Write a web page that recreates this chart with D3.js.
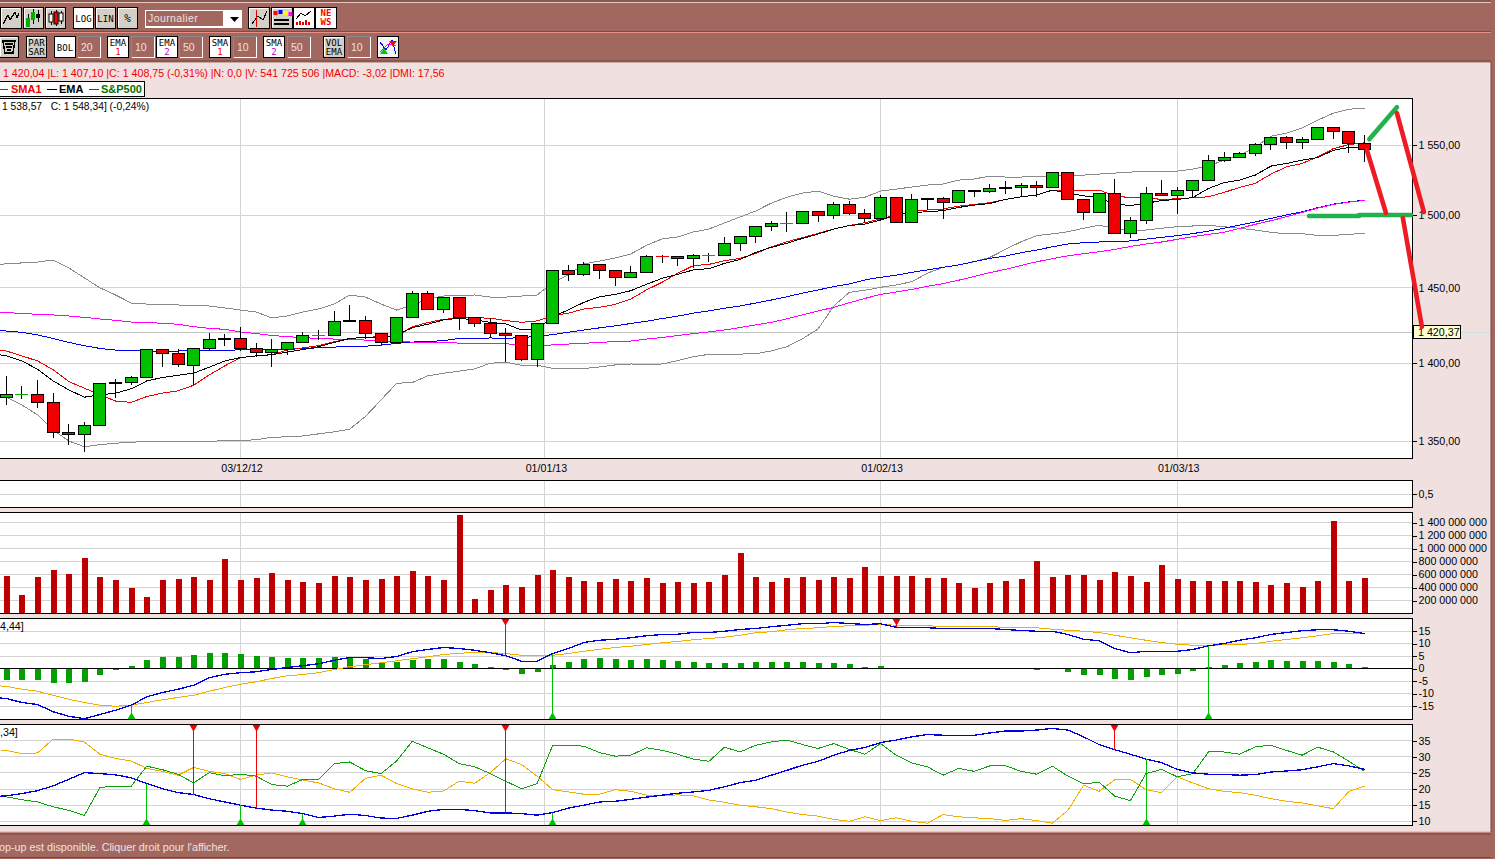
<!DOCTYPE html>
<html><head><meta charset="utf-8">
<script src="https://cdn.jsdelivr.net/npm/d3@7/dist/d3.min.js"></script>
<style>html,body{margin:0;padding:0;background:#f0e0e0;overflow:hidden}svg{display:block}text{font-family:"Liberation Sans",Arial,sans-serif}</style>
</head><body><svg id="c" width="1495" height="859"></svg>
<script>
// ---------- candles (S&P500 daily) ----------
const opens=[1377.9,1379.7,1379.8,1374.6,1355.6,1353.8,1360,1386.9,1387.6,1390.8,1409,1406.4,1398.6,1409.6,1415.6,1416.3,1409.6,1407,1409,1413.6,1418.2,1418.3,1427.6,1428.3,1419.6,1413.6,1430.3,1446.3,1435.6,1443.6,1430.3,1426.3,1419.6,1418.3,1402.5,1426.3,1462,1459,1466.1,1462,1457.2,1460.6,1471.5,1471.5,1470.1,1472.2,1472.3,1480.4,1485.3,1492.3,1494.3,1494.4,1502.7,1500,1507.6,1501.3,1497.9,1512.5,1495.1,1511.1,1511.8,1509,1516.8,1516.8,1518.9,1519.6,1521,1519.6,1530.3,1511.1,1502,1515.4,1487.4,1496.5,1515.4,1513.9,1517.5,1524.6,1538.9,1541,1543.8,1550.4,1555.5,1551.8,1554,1562.8,1559.8,1551.1];
const highs=[1391.7,1385.2,1389.1,1380.4,1360.8,1361.9,1387.2,1389.7,1391.7,1409.3,1409.3,1409,1409.6,1419.6,1419,1423.6,1413,1415.6,1413.6,1420.2,1421.8,1434.3,1438.3,1431,1419.6,1430.6,1447.9,1447.9,1443.6,1443.9,1430.6,1429.6,1423.4,1418.5,1426.7,1462.3,1465.6,1467.4,1466.3,1462.3,1464.9,1472.2,1472.2,1471.9,1472.9,1473.6,1484.6,1485.3,1492.6,1495.8,1502,1503,1503,1509,1509.7,1504.1,1513.9,1512.8,1514.9,1511.8,1512.5,1517.8,1517.8,1521.8,1524.1,1522.5,1524.1,1530.5,1530.5,1511.3,1515.6,1525.3,1498.6,1519.6,1524.8,1519.6,1524.6,1543.1,1544.6,1545,1551.8,1555.8,1556.2,1555.5,1563,1563,1560,1556.9];
const lows=[1372.9,1376.9,1371.2,1352.1,1347.7,1343.2,1359.6,1377.2,1386,1390.6,1397.7,1397.7,1385.8,1408.5,1411.4,1408,1403.8,1397.7,1405.5,1413,1415.2,1418,1427,1415.6,1411.6,1413.3,1430,1435.3,1433,1421.8,1424,1416.3,1400.9,1401.6,1397.7,1426,1454.9,1458.3,1456,1451.5,1456.9,1460.4,1467.2,1465.1,1463.4,1467.4,1472,1475.3,1480.9,1489.2,1488.3,1494.1,1495.5,1497.6,1500,1495.5,1497.2,1494.4,1494.9,1503.6,1497.6,1508.8,1512.7,1515.4,1514.9,1512.9,1512.9,1519.4,1510.9,1497,1501.8,1487.2,1484.4,1494.1,1513.7,1501,1511.8,1524.3,1537.4,1540.8,1542.4,1546.2,1547.1,1547.1,1553.8,1554.7,1544.3,1537.9];
const closes=[1379.8,1379.8,1374.6,1355.6,1353.8,1360,1386.9,1387.6,1390.8,1409,1406.4,1399.2,1409.6,1415.6,1416.3,1409.6,1407,1409,1413.6,1418.3,1418.3,1427.6,1428.3,1419.6,1413.6,1430.3,1446.3,1435.6,1443.6,1430.3,1426.3,1419.6,1418.3,1402.5,1426.3,1462,1459,1466.1,1462,1457.2,1460.6,1471.5,1471.4,1470.1,1472.2,1472.3,1480.4,1485.3,1492.3,1494.4,1494.4,1502.7,1500,1507.6,1501.3,1497.9,1512.5,1495.1,1511.1,1511.8,1509,1517.5,1517.5,1518.9,1519.6,1521,1519.6,1530.3,1511.1,1502,1515.4,1487.4,1496.5,1515.4,1513.9,1517.5,1524.6,1538.9,1541,1543.8,1550.4,1555.5,1551.8,1554,1562.8,1559.8,1551.1,1547.1];
// ---------- overlays: first value is the session just off the left edge ----------
const sma1=[1408.6,1407.9,1404.7,1401.4,1395.6,1388,1383.7,1379.4,1375.4,1374.6,1378.3,1380.5,1382,1385.6,1392.3,1398.2,1403.6,1404.7,1405.5,1408.5,1410,1411.4,1414,1416.2,1416.9,1417.4,1417.4,1424,1426.7,1428.9,1429.6,1430,1429.6,1428.1,1426.9,1427.8,1431.2,1433,1435.8,1436.9,1438.9,1442.5,1448.6,1453.8,1459.9,1465.1,1466,1468.5,1470.1,1473.5,1478.1,1481.6,1484.4,1487.4,1490.4,1492.8,1494.8,1497.4,1500.2,1502.5,1503.7,1504.4,1506.4,1507.6,1508.8,1511.1,1513,1514.2,1517.7,1517.7,1517.3,1517.7,1513.7,1512.3,1512.3,1511.1,1511.6,1512.3,1513,1516.1,1519.6,1522.5,1529.1,1534.3,1536.7,1541.5,1547.4,1550.3,1551.6];
const ema1=[1406.5,1404.7,1401.4,1396,1388.4,1382.6,1377.9,1379.4,1380.5,1383.3,1388.4,1390.6,1392.1,1393.4,1397.3,1401.4,1403.6,1404.7,1405.5,1407.2,1408.9,1410.7,1413.6,1416.2,1416.9,1416.9,1418.5,1423.3,1425.6,1428.5,1429.6,1428.5,1426.9,1425.8,1421.8,1422.3,1430.7,1435.2,1440.3,1444,1445.6,1448.1,1452.4,1456.5,1459.2,1462.2,1463.1,1466.7,1469.4,1474.2,1477.7,1480.5,1483.9,1486.9,1490.4,1492.8,1493.9,1496.7,1500.2,1501.8,1502.5,1503.2,1505.5,1507.1,1508.3,1511.1,1513,1514.2,1517.7,1515.4,1513.7,1512.3,1507.8,1506.9,1508.3,1510.4,1511.1,1512.5,1518.9,1523,1524.8,1528.4,1534.8,1536.7,1539.1,1541,1546.2,1548.2,1547.9];
const ema2=[1422,1421.1,1420.2,1418.5,1416.2,1413.6,1411.4,1409.6,1408.5,1408.1,1407.9,1407.9,1407.9,1408.1,1408.3,1408.3,1408.7,1409.2,1408.9,1409.2,1409.6,1410,1410.5,1410.9,1411.1,1411.8,1412.9,1413.8,1414.2,1414.7,1416.2,1416.2,1416.5,1416.3,1416.7,1417.6,1418.7,1420.3,1421.8,1423.2,1424.5,1426.1,1427.6,1429.4,1431,1433,1434.5,1436.3,1437.8,1439.8,1441.8,1444,1446.5,1448.6,1450.9,1452.7,1455.4,1457.2,1458.6,1460.6,1462.2,1464,1465.6,1467.9,1470.1,1471.7,1474,1475.8,1478.1,1480,1480.9,1481.4,1481.8,1482.1,1483.4,1484.6,1485.8,1487.2,1489,1490.9,1493.2,1495.3,1497.8,1500.2,1502.5,1505.3,1507.8,1509.4,1510.6];
const sma2=[1433.6,1433.3,1432.9,1432.2,1431.8,1431.1,1430.2,1429.1,1428.2,1427.1,1426.9,1426.2,1425.6,1424,1422.9,1422.2,1420.5,1419.4,1418.2,1417.4,1416.7,1416.2,1415.8,1415.6,1415.1,1414.5,1414,1413.8,1413.8,1413.6,1413.1,1412.9,1412.9,1412.7,1411.9,1411.6,1411.9,1412.5,1413,1413.6,1414.1,1414.5,1415.8,1416.8,1418.1,1419.4,1420.5,1421.8,1423.4,1425.2,1426.9,1429.2,1431.8,1434.5,1436.9,1440,1442.9,1445.6,1447.2,1449,1451.1,1452.9,1455.2,1457.7,1460.4,1462.6,1465.3,1467.8,1469.9,1471.9,1473.3,1474.7,1476.3,1478.3,1480,1481.4,1483.2,1485.1,1486.7,1488.1,1490.9,1493.7,1496.2,1499,1502,1505,1507.6,1509.2,1510.4];
const bollUpper=[1466,1466.3,1467,1467.6,1469,1463.6,1456.8,1450,1445.2,1439.8,1439.1,1438.5,1438.5,1437.8,1437.8,1436.5,1435.1,1433.8,1429.8,1431.1,1433.8,1435.8,1439.1,1445.2,1443.8,1439.1,1435.1,1438.5,1442.5,1444.5,1444.9,1445.2,1443.8,1443.8,1444.5,1445.2,1453.4,1458.8,1466.3,1468.3,1470.4,1473.1,1479.1,1483.5,1484.9,1488.3,1490.4,1494.6,1498.8,1503,1508.5,1512.7,1515.6,1517,1513.4,1511.3,1512.7,1517,1518.4,1519.9,1521.3,1522,1524.8,1525.6,1527.7,1527,1527,1527.7,1527.7,1528.4,1528.4,1529.1,1529.8,1530.5,1531.2,1531.2,1531.2,1532.7,1534.8,1539.1,1542.6,1548.4,1556.4,1558.6,1562.3,1568.1,1573.2,1576.1,1576.9];
const bollLower=[1378,1377.8,1372.9,1366.6,1357,1350,1346.4,1347.7,1348.6,1349.3,1349.5,1349.5,1349.5,1349.5,1349.8,1350.2,1350.5,1350.7,1352.4,1352.6,1353.2,1354.5,1355.8,1357.5,1365.5,1376.1,1386.9,1387.3,1391.7,1393.4,1394.7,1396.2,1399.9,1400.5,1398.6,1398.6,1396.6,1396.4,1396.4,1397.5,1398.8,1399.4,1399.2,1399.4,1401.6,1404.2,1405.7,1405.7,1405.9,1406.1,1408,1410.7,1416,1422.5,1437.8,1447,1448.4,1450.4,1452,1454.2,1460,1464,1465.6,1467.8,1470.8,1476.3,1481.6,1485.8,1487,1488.5,1490.9,1493,1490.9,1489.2,1489.7,1490.9,1492,1492.5,1493,1492,1490.9,1489.7,1488.1,1487.1,1487.1,1486,1486,1486.7,1487.4];
const volumesM=[574,282,559,667,605,851,559,513,390,251,513,528,559,513,836,513,544,621,513,482,467,574,559,513,528,574,651,574,513,1513,221,359,436,405,590,667,559,497,482,528,497,544,467,482,467,482,590,928,559,482,544,559,513,559,544,713,574,574,574,544,544,467,390,467,497,528,805,559,590,590,513,636,574,482,744,528,497,497,497,497,482,436,467,405,497,1421,497,544];
const macdHist=[-4.7,-4.7,-4.7,-5.9,-5.9,-5.5,-2.7,-0.7,0.9,3.3,4.5,4.5,5.3,6.1,6.1,5.7,4.9,4.5,4.1,4.1,4.1,4.5,4.1,3.7,2.5,2.5,3.3,3.7,3.7,2.5,1.7,0.5,-0.5,-2.3,-1.5,1.3,2.5,3.7,4.1,3.7,3.3,3.7,3.3,2.9,2.5,2.1,2.1,2.1,2.5,2.5,2.5,2.5,2.1,2.1,1.7,0.5,0.9,0,0,0,0,0,0,0,0,0,-0.5,0,-1.5,-2.7,-2.7,-4.3,-4.7,-3.5,-2.7,-2.3,-1.1,0.5,1.3,2.1,2.5,3.3,2.9,2.9,2.9,2.5,1.7,0.5];
const macdLine=[-11.5,-12,-13.6,-14.4,-17.3,-19.1,-20.1,-18.4,-16.7,-14.7,-11.3,-9.6,-8.3,-6.7,-3.7,-2.3,-1.7,-1.3,-0.4,0.4,1.1,1.9,3.3,4.4,4.3,4,4.8,6.7,7.6,8.4,8,7.3,6.3,5.1,2.9,2.9,6,8,10.4,11.3,11.7,12.3,13.1,13.6,13.7,14.4,14.4,14.9,15.6,16,16.7,17.3,17.9,17.9,18.4,18,17.6,17.9,16.5,16.3,16.3,16,16,16,16,15.6,15.2,14.9,14.9,13.6,11.7,11.1,8,6.3,6.9,6.9,6.9,7.6,9.1,10,11.3,12.3,13.6,14.4,15.1,15.5,15.5,14.9,14];
const macdSignal=[-6.8,-7.1,-8.3,-9.1,-10.7,-12.3,-13.6,-14.7,-15.1,-14.7,-13.6,-12.5,-11.6,-10.7,-9.1,-7.6,-6.3,-5.3,-4,-2.9,-2.4,-1.7,-0.4,0.7,1.5,2.3,3.1,3.9,4.7,5.6,6.1,6.4,6.4,6,5.3,5.2,5.3,6,6.9,7.7,8.4,8.9,9.6,10.3,10.8,11.5,12,12.5,13.3,14.3,14.7,15.5,16,16.3,16.8,17.1,17.3,17.7,17.3,17.2,17.1,16.8,16.8,16.8,16.7,16.5,16.4,16.3,15.7,15.3,14.9,14.4,13.3,12.3,11.3,10.4,9.7,9.3,9.1,9.6,9.6,10,10.9,11.6,12.3,13.1,14,14.1,14.1];
const dmiAdx=[17.6,17.9,18.6,19.5,21,23,25.1,24.8,24.4,23.5,21.7,20.1,18.9,18.3,17,16,15,14.1,13.5,13.1,12.4,11.2,11.6,12.2,11.8,11,10.9,11.9,13.1,13.7,13.7,13.3,12.6,12.6,12.4,11.9,12.7,14.1,15,16,16.2,16.8,17.5,18.1,18.7,19.1,19.6,20.7,22,22.7,24.3,25.8,27.4,28.6,30.5,32,32.9,34.4,35.2,36.2,36.9,36.7,36.7,36.7,37.4,38,38,38.3,38.8,38.3,36.2,33.8,32.2,30.8,29.3,28.2,26.1,25,24.6,24.5,24.3,24.5,25.3,25.6,26,26.9,27.9,27.2,26.1];
const dmiPlus=[17.9,17.6,16.7,16,14.5,13.4,11.8,20.5,20.9,20.9,27.1,26,24.6,21.9,25.1,24.1,24.6,24,21.4,20.9,23,23,27.9,28.4,25.7,24.8,28.7,34.8,32.8,30.8,27.9,26.9,24.8,22.4,20.1,21.7,33.6,33.6,33.3,31.3,30.2,30.5,32.8,32,30.8,29.3,28.6,33,31.5,33.6,34.6,35.2,33.8,32.6,34.1,32.3,30.8,34.1,30.5,28.1,26.9,24.3,26.4,25.5,27.2,27.2,25.5,24.6,27.1,24,21.6,22.1,17.8,16.4,24.8,26.1,23.8,24.8,31.5,31.5,30.8,33.1,33.6,32,30.5,33,31.5,28.6,25.5];
const dmiMinus=[32.3,32,31,31.2,35.5,35.5,34.6,30.8,29.5,28.7,26.4,25.5,24.3,26.7,25.5,24.8,23,24.3,25,23.8,22.8,21.9,20.1,19,23.3,24.3,21.7,20.1,19,19.4,22.4,21.8,25.1,29.4,27.6,24,19.8,19.1,18.4,18.4,19.8,19.3,18.1,17.9,18.2,17.9,16.6,15.9,15,14.5,13.9,12.9,12.1,11.6,10.6,10,11.4,10.2,11.1,10,9.4,12.1,11.4,11.1,10.8,10.3,10.8,10.2,9.4,13.4,21.2,19.3,22.9,23,19.8,18.9,23.8,21.9,20.1,19.3,18.9,18.1,17,16.2,15.7,14.8,13.9,19.3,20.9];
// signals (session numbers)
const macdBuy=[8,35,77], macdSell=[32,57], dmiBuy=[9,15,19,35,73], dmiSell=[12,16,32,71];
// axes
const priceTicks=[1350,1400,1450,1500,1550], lastPrice=1420.37;
const dateTicks=[[15,"03/12/12"],[34.5,"01/01/13"],[56,"01/02/13"],[75,"01/03/13"]];
const volTicks=[200,400,600,800,1000,1200,1400];
const macdTicks=[15,10,5,0,-5,-10,-15], dmiTicks=[35,30,25,20,15,10];
// hand-drawn annotations [session, price]
const annotGreen=[[[87.3,1554.2],[89.07,1577.6]],[[83.44,1499.5],[86.64,1499.5]],[[86.64,1500.2],[89.97,1500.2]]];
const annotRed=[[[89.07,1573.2],[90.8,1502.2]],[[87.15,1546.2],[88.37,1501.6]],[[89.45,1498.1],[90.67,1424]]];

const BROWN="#a26860",PINK="#f0e0e0",GRID="#d4d4d4",RIGHT=1412.5,LEFT=-3,AXF=10.7;
const svg=d3.select("#c");
const x=d3.scaleLinear().domain([0,87]).range([6.3,1364.6]);
const yP=d3.scaleLog().domain([1350,1550]).range([441,145]);
const yE=d3.scaleLinear().domain([0,1]).range([507.5,480.5]);
const yV=d3.scaleLinear().domain([0,1400]).range([613.5,522.5]);
const yM=d3.scaleLinear().domain([0,15]).range([668.5,631]);
const yD=d3.scaleLinear().domain([10,35]).range([821.3,740.7]);
const xr=i=>Math.floor(x(i));

svg.append("rect").attr("width",1495).attr("height",859).attr("fill",PINK);

// ---------- chrome ----------
const chrome=svg.append("g");
chrome.append("rect").attr("width",1495).attr("height",62).attr("fill",BROWN);
[[1,"#6e4640"],[2.5,"#e8c8c0"],[31.5,"#7a4e48"],[32.5,"#e89088"],[61,"#6e4640"],[62.5,"#c8a8a0"]].forEach(l=>chrome.append("line").attr("x1",0).attr("x2",1495).attr("y1",l[0]).attr("y2",l[0]).attr("stroke",l[1]).attr("stroke-width",1));
chrome.append("rect").attr("x",0).attr("y",832).attr("width",1495).attr("height",27).attr("fill",BROWN);
[[832,"#e8a8a0"],[834,"#6e4640"],[857.5,"#6e4640"]].forEach(l=>chrome.append("line").attr("x1",0).attr("x2",1495).attr("y1",l[0]).attr("y2",l[0]).attr("stroke",l[1]));
chrome.append("rect").attr("x",1491).attr("y",0).attr("width",4).attr("height",859).attr("fill",BROWN);
chrome.append("line").attr("x1",1491).attr("x2",1491).attr("y1",62).attr("y2",832).attr("stroke","#6e4640");
function btn(x0,y0,w,h,fill,lines,col){
  const g=chrome.append("g").attr("shape-rendering","crispEdges");
  g.append("rect").attr("x",x0+.5).attr("y",y0+.5).attr("width",w).attr("height",h).attr("fill",fill).attr("stroke","#000");
  g.append("path").attr("d",`M${x0+1.5} ${y0+h-1}V${y0+1.5}H${x0+w-1}`).attr("fill","none").attr("stroke","#fff");
  (lines||[]).forEach((t,k)=>{
    chrome.append("text").attr("x",x0+w/2+.5).attr("y",y0+(lines.length==1?h/2+4:h/2+(k==0?-1:8))).attr("text-anchor","middle").attr("font-size",t=="%"?11:9).attr("fill",(col&&k==1)?col:"#000").style("font-family","'DejaVu Sans Mono',monospace").text(t);
  });
  return g;
}
function field(x0,y0,w,h,t){
  const g=chrome.append("g").attr("shape-rendering","crispEdges");
  g.append("rect").attr("x",x0+.5).attr("y",y0+.5).attr("width",w).attr("height",h).attr("fill",BROWN).attr("stroke","#8a8a8a");
  g.append("path").attr("d",`M${x0+w+.5} ${y0+1}V${y0+h+.5}H${x0+1}`).attr("fill","none").attr("stroke","#fff");
  chrome.append("text").attr("x",x0+4).attr("y",y0+h/2+4).attr("font-size",10.5).attr("fill",PINK).text(t);
}
const G="#d4d0c8";
function icon(g,d,c,w){g.append("path").attr("d",d).attr("fill","none").attr("stroke",c||"#000").attr("stroke-width",w||1)}
icon(btn(0,7,21,21,G),"M3 24L8 15L10 20L15 12L17 18L19 13","#000",1.2);
const bc=btn(23,7,20,21,G);icon(bc,"M28 14V26M33 9V24M38 10V22","#000");
[[26,18,9,"#00b000"],[31,12,8,"#00b000"],[36,14,4,"#000"]].forEach(c=>chrome.append("rect").attr("x",c[0]).attr("y",c[1]).attr("width",4).attr("height",c[2]).attr("fill",c[3]));
icon(btn(45,7,20,21,G),"M51 11V25M56 10V26M61 11V24","#000");
chrome.append("rect").attr("x",54).attr("y",12).attr("width",4).attr("height",12).attr("fill","#f00").attr("stroke","#000");
chrome.append("rect").attr("x",49).attr("y",14).attr("width",4).attr("height",8).attr("fill","#fff").attr("stroke","#000");
chrome.append("rect").attr("x",59).attr("y",13).attr("width",4).attr("height",8).attr("fill","#fff").attr("stroke","#000");
btn(73,7,20,21,"#fff",["LOG"]);btn(95,7,20,21,G,["LIN"]);btn(117,7,20,21,G,["%"]);
const sel=chrome.append("g").attr("shape-rendering","crispEdges");
sel.append("rect").attr("x",144.5).attr("y",9.5).attr("width",97).attr("height",18).attr("fill","#fff");
sel.append("rect").attr("x",146).attr("y",11).attr("width",77).attr("height",15).attr("fill",BROWN);
chrome.append("text").attr("x",148).attr("y",22).attr("font-size",10.5).attr("letter-spacing",.4).attr("fill",PINK).text("Journalier");
chrome.append("path").attr("d","M230 17h9l-4.5 5z").attr("fill","#000");
const b1=btn(248,7,21,21,G);icon(b1,"M252 24L258 16L263 20L267 11","#000");icon(b1,"M256 10V27","#d00");
const b2=btn(271,7,21,21,G);
[[274,11,"#f00"],[279,10,"#00f"],[284,11,"#ff0"],[289,12,"#f0f"]].forEach(c=>chrome.append("rect").attr("x",c[0]-.5).attr("y",c[1]).attr("width",4).attr("height",4).attr("fill",c[2]));
icon(b2,"M274 20H289M274 24H289","#000",1.5);
const b3=btn(293,7,21,21,"#fff");icon(b3,"M296 19L301 13L305 16L311 11","#000");icon(b3,"M297 25V22M300 25V21M303 25V22M306 25V20M309 25V22","#d00",1.5);
btn(315,7,21,21,"#fff");
["NE","WS"].forEach((t,k)=>chrome.append("text").attr("x",326).attr("y",16+k*9).attr("text-anchor","middle").attr("font-size",9).attr("font-weight","bold").attr("fill","#f00").style("font-family","'DejaVu Sans Mono',monospace").text(t));
const b4=btn(-1,36,19,21,G);icon(b4,"M3 41H15L13 53H5ZM5 44H13M6 47H12M7 50H11","#000",1.5);
btn(26,36,20,21,G,["PAR","SAR"]);btn(54,36,21,21,"#fff",["BOL"]);field(77,36,23,21,"20");
btn(107,36,21,21,"#fff",["EMA","1"],"#f00");field(131,36,23,21,"10");
btn(156,36,21,21,"#fff",["EMA","2"],"#c000c0");field(179,36,23,21,"50");
btn(209,36,21,21,"#fff",["SMA","1"],"#f00");field(233,36,23,21,"10");
btn(263,36,21,21,"#fff",["SMA","2"],"#c000c0");field(287,36,23,21,"50");
btn(323,36,21,21,G,["VOL","EMA"]);field(347,36,23,21,"10");
const b5=btn(377,36,21,21,"#f4f4f4");icon(b5,"M380 42L386 50L392 40L396 54","#00f");icon(b5,"M380 52L388 44L396 46","#f0f");
chrome.append("path").attr("d","M389 41h8l-4 5z").attr("fill","#f00");chrome.append("path").attr("d","M380 54h8l-4 -6z").attr("fill","#0c0");

svg.append("text").attr("x",3).attr("y",77).attr("font-size",10.65).attr("fill","#f00000").text("1 420,04 |L: 1 407,10 |C: 1 408,75 (-0,31%) |N: 0,0 |V: 541 725 506 |MACD: -3,02 |DMI: 17,56");
// legend
const lg=svg.append("g");
lg.append("rect").attr("x",-3).attr("y",81.5).attr("width",147.5).attr("height",15).attr("fill","#fff").attr("stroke","#000").attr("shape-rendering","crispEdges");
[[0,8,11,"SMA1","#f00000","#f00000"],[47,57,59,"EMA","#000","#000"],[89,99,101,"S&P500","#007000","#007000"]].forEach(l=>{
  lg.append("line").attr("x1",l[0]).attr("x2",l[1]).attr("y1",89.5).attr("y2",89.5).attr("stroke",l[4]).attr("shape-rendering","crispEdges");
  lg.append("text").attr("x",l[2]).attr("y",93).attr("font-size",11).attr("font-weight","bold").attr("fill",l[5]).text(l[3]);
});

// ---------- panels ----------
function panel(top,bot,yScale,ticks,fmt){
  const g=svg.append("g");
  g.append("rect").attr("x",LEFT).attr("y",top).attr("width",RIGHT-LEFT).attr("height",bot-top).attr("fill","#fff").attr("shape-rendering","crispEdges");
  const gr=g.append("g").attr("stroke",GRID).attr("shape-rendering","crispEdges");
  gr.selectAll(".h").data(ticks).join("line").attr("x1",0).attr("x2",RIGHT).attr("y1",d=>yScale(d)).attr("y2",d=>yScale(d));
  gr.selectAll(".v").data(dateTicks).join("line").attr("x1",d=>x(d[0])).attr("x2",d=>x(d[0])).attr("y1",top).attr("y2",bot);
  const ax=svg.append("g").attr("transform",`translate(${RIGHT},0)`).call(d3.axisRight(yScale).tickValues(ticks).tickFormat(fmt).tickSize(4).tickPadding(2));
  ax.select(".domain").remove();
  ax.selectAll("text").attr("font-size",AXF).attr("fill","#000").style("font-family","'Liberation Sans',Arial,sans-serif");
  ax.selectAll("line").attr("shape-rendering","crispEdges");
  const content=svg.append("g");
  const border=()=>svg.append("rect").attr("x",LEFT).attr("y",top).attr("width",RIGHT-LEFT).attr("height",bot-top).attr("fill","none").attr("stroke","#000").attr("shape-rendering","crispEdges");
  return {g:content,border};
}
const series=(g,arr,yS,color,w)=>g.append("path").attr("d",d3.line().x((d,i)=>x(i-1)).y(d=>yS(d))(arr)).attr("fill","none").attr("stroke",color).attr("stroke-width",w||1).attr("shape-rendering","crispEdges");
const spaced=v=>String(v).replace(/\B(?=(\d{3})+(?!\d))/g," ");

// main
const main=panel(98.5,458.5,yP,priceTicks,d=>spaced(d)+",00");
main.g.append("line").attr("x1",0).attr("x2",RIGHT).attr("y1",yP(lastPrice)).attr("y2",yP(lastPrice)).attr("stroke","#c4c4c4").attr("shape-rendering","crispEdges");
main.g.append("line").attr("x1",RIGHT).attr("x2",1490).attr("y1",yP(lastPrice)).attr("y2",yP(lastPrice)).attr("stroke","#cfe0e0").attr("shape-rendering","crispEdges");
series(main.g,bollUpper,yP,"#8a8a8a");
series(main.g,bollLower,yP,"#8a8a8a");
series(main.g,ema2,yP,"#0000f0");
series(main.g,sma2,yP,"#ff00ff");
series(main.g,sma1,yP,"#f00000");
series(main.g,ema1,yP,"#000");
const candles=main.g.append("g").attr("shape-rendering","crispEdges");
closes.forEach((c,i)=>{
  const o=opens[i],up=c>=o,cx=xr(i)+.5,t=yP(Math.max(o,c)),b=yP(Math.min(o,c));
  candles.append("line").attr("x1",cx).attr("x2",cx).attr("y1",yP(highs[i])).attr("y2",yP(lows[i])).attr("stroke","#000");
  if(b-t<.5){
    candles.append("line").attr("x1",cx-6.5).attr("x2",cx+6.5).attr("y1",t).attr("y2",t).attr("stroke",up?"#00b000":"#f00000");
  } else {
    candles.append("rect").attr("x",cx-6).attr("y",t).attr("width",12).attr("height",b-t).attr("fill",up?"#00c000":"#f00000").attr("stroke","#000");
  }
});
main.border();
const dax=svg.append("g").attr("transform","translate(0,458.5)").call(d3.axisBottom(x).tickValues(dateTicks.map(d=>d[0])).tickFormat(v=>dateTicks.find(d=>d[0]===v)[1]).tickSize(0).tickPadding(6));
dax.select(".domain").remove();
dax.selectAll("text").attr("font-size",AXF).attr("fill","#000").attr("dx",1).style("font-family","'Liberation Sans',Arial,sans-serif");
svg.append("text").attr("x",2).attr("y",110).attr("font-size",10.3).attr("fill","#000").style("white-space","pre").text("1 538,57   C: 1 548,34] (-0,24%)");

// empty
const emp=panel(480.5,507.5,yE,[0.5],()=>"0,5");emp.border();

// volume
const vol=panel(512.5,613.5,yV,volTicks,d=>spaced(d)+" 000 000");
vol.g.selectAll("rect").data(volumesM).join("rect").attr("x",(d,i)=>xr(i)-2.5).attr("width",6).attr("y",d=>yV(d)).attr("height",d=>yV(0)-yV(d)).attr("fill","#c00000").attr("shape-rendering","crispEdges");
vol.border();

// markers
function markers(g,arr,buy,sell,yS,top,bot){
  const sym=d3.symbol().type(d3.symbolTriangle).size(30);
  buy.forEach(i=>{
    g.append("line").attr("x1",xr(i)+.5).attr("x2",xr(i)+.5).attr("y1",yS(arr[i+1])).attr("y2",bot).attr("stroke","#00c000").attr("shape-rendering","crispEdges");
    g.append("path").attr("d",sym()).attr("fill","#00c000").attr("transform",`translate(${xr(i)+.5},${bot-2.4})`);
  });
  sell.forEach(i=>{
    g.append("line").attr("x1",xr(i)+.5).attr("x2",xr(i)+.5).attr("y1",top).attr("y2",yS(arr[i+1])).attr("stroke","#f00000").attr("shape-rendering","crispEdges");
    g.append("path").attr("d",sym()).attr("fill","#f00000").attr("transform",`translate(${xr(i)+.5},${top+2.4}) rotate(180)`);
  });
}
// macd
const md=panel(618.5,719.5,yM,macdTicks,d=>String(d));
md.g.selectAll("rect").data(macdHist).join("rect").attr("x",(d,i)=>xr(i)-2.5).attr("width",6).attr("y",d=>Math.min(yM(d),yM(0))).attr("height",d=>Math.abs(yM(d)-yM(0))).attr("fill","#00a000").attr("shape-rendering","crispEdges");
md.g.append("line").attr("x1",0).attr("x2",RIGHT).attr("y1",yM(0)).attr("y2",yM(0)).attr("stroke","#000").attr("shape-rendering","crispEdges");
series(md.g,macdSignal,yM,"#f0b000");
series(md.g,macdLine,yM,"#0000e0",1.3);
markers(md.g,macdLine,macdBuy,macdSell,yM,618.5,719.5);
md.border();
svg.append("text").attr("x",0).attr("y",630).attr("font-size",10.7).attr("fill","#000").text("4,44]");

// dmi
const dm=panel(724.5,825.5,yD,dmiTicks,d=>String(d));
series(dm.g,dmiMinus,yD,"#f0b000");
series(dm.g,dmiPlus,yD,"#10a010");
series(dm.g,dmiAdx,yD,"#0000e0",1.3);
markers(dm.g,dmiAdx,dmiBuy,dmiSell,yD,724.5,825.5);
dm.border();
svg.append("text").attr("x",0).attr("y",736).attr("font-size",10.7).attr("fill","#000").text(",34]");

// last price tag
const tagY=yP(lastPrice);
svg.append("rect").attr("x",1413.5).attr("y",325.5).attr("width",47).attr("height",13).attr("fill","#ffffd0").attr("stroke","#000").attr("shape-rendering","crispEdges");
svg.append("text").attr("x",1418).attr("y",tagY+4).attr("font-size",AXF).attr("fill","#000").text("1 420,37");

// annotations
const al=d3.line().x(d=>x(d[0])).y(d=>yP(d[1]));
annotGreen.forEach(s=>svg.append("path").attr("d",al(s)).attr("stroke","#22b14c").attr("stroke-width",4.6).attr("stroke-linecap","round").attr("fill","none"));
annotRed.forEach(s=>svg.append("path").attr("d",al(s)).attr("stroke","#ed1c24").attr("stroke-width",4.6).attr("stroke-linecap","round").attr("fill","none"));

svg.append("text").attr("x",-1).attr("y",851).attr("font-size",10.8).attr("fill",PINK).text("op-up est disponible. Cliquer droit pour l'afficher.");
</script></body></html>
